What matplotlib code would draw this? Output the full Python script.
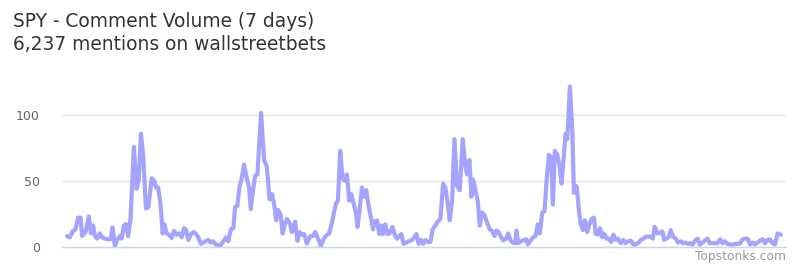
import matplotlib
matplotlib.use("Agg")
import matplotlib.pyplot as plt

title = "SPY - Comment Volume (7 days)"
subtitle = "6,237 mentions on wallstreetbets"
watermark = "Topstonks.com"
y_ticks = [0, 50, 100]

hours = [0, 0.64, 1.41, 1.98, 2.59, 3.16, 3.54, 4.34, 5.12, 5.59, 6.13, 6.53, 7.07, 7.71, 8.25, 8.89,
         9.66, 10.23, 10.70, 11.24, 11.79, 12.42, 12.82, 13.37, 13.84, 14.38, 14.95, 15.72, 16.36,
         16.83, 17.37, 17.92, 18.55, 19.14, 19.90, 20.56, 20.91, 21.45, 22.02, 22.49, 22.87, 23.43,
         23.97, 24.61, 25.15, 25.79, 26.40, 26.97, 27.51, 27.98, 28.52, 29.09, 29.70, 30.27, 30.88,
         31.52, 32.06, 32.62, 33.24, 33.80, 34.35, 34.98, 35.60, 36.23, 36.77, 37.41, 37.95, 38.52,
         39.13, 39.53, 40.07, 40.55, 41.11, 41.65, 42.29, 42.83, 43.23, 43.85, 44.25, 44.79, 45.66,
         46.37, 47.00, 47.66, 48.25, 48.84, 49.20, 49.67, 50.26, 50.73, 51.32, 51.79, 52.50, 52.90,
         53.68, 54.22, 54.69, 55.25, 55.80, 56.43, 57.21, 57.85, 58.39, 58.93, 59.73, 60.35, 60.98,
         61.69, 62.33, 62.87, 63.34, 63.74, 64.28, 64.83, 65.39, 65.86, 66.40, 66.88, 67.42, 67.98,
         68.36, 68.83, 69.40, 69.94, 70.41, 70.95, 71.52, 71.99, 72.37, 72.93, 73.48, 73.95, 74.35,
         74.89, 75.43, 75.90, 76.61, 77.08, 77.65, 78.19, 78.66, 79.21, 79.84, 80.38, 81.18, 81.73,
         82.20, 82.74, 83.31, 83.78, 84.32, 84.86, 85.50, 86.04, 86.68, 87.22, 87.86, 88.49, 89.03,
         89.58, 90.05, 90.61, 91.16, 91.79, 92.41, 93.11, 93.75, 94.15, 94.69, 95.16, 95.56, 96.10,
         96.65, 97.12, 97.69, 98.23, 98.87, 99.48, 100.04, 100.59, 101.06, 101.60, 102.00, 102.64,
         103.35, 103.82, 104.36, 104.90, 105.42, 105.77, 106.17, 106.88, 107.49, 108.06, 108.43,
         109.07, 109.71, 110.25, 110.79, 111.26, 111.83, 112.37, 112.84, 113.38, 113.95, 114.33,
         114.80, 115.37, 115.91, 116.38, 116.92, 117.32, 117.72, 118.34, 118.90, 119.28, 119.92,
         120.46, 120.86, 121.40, 121.87, 122.44, 122.98, 123.45, 124.00, 124.40, 124.94, 125.41,
         125.97, 126.35, 126.99, 127.46, 128.10, 128.57, 129.11, 129.65, 130.29, 130.92, 131.47,
         132.01, 132.65, 133.28, 133.83, 134.37, 135.00, 135.64, 136.18, 136.77, 137.36, 137.83,
         138.30, 138.94, 139.55, 140.12, 140.49, 141.06, 141.67, 142.07, 142.62, 143.25, 143.79,
         144.43, 144.97, 145.54, 146.15, 146.67, 147.19, 147.80, 148.37, 148.91, 149.55, 150.09,
         150.73, 151.27, 151.86, 152.45, 153.04, 153.70, 154.27, 154.81, 155.45, 156.06, 156.63,
         157.17, 157.76, 158.41, 158.98, 159.52, 160.15, 160.77, 161.34, 161.88, 162.51, 163.13,
         163.70, 164.24, 164.87, 165.42, 166.05, 166.59, 167.23, 168.00]

mentions = [8, 7, 12, 13, 22, 22, 8, 11, 23, 10, 16, 8, 6, 10, 7, 6,
            5.5, 5.5, 14.5, 0.5, 5, 8, 6, 16, 17, 8, 22, 76, 44,
            50, 86, 69, 29, 30, 52, 50, 45, 45, 31, 10, 17, 10,
            9, 6.5, 12, 9, 10, 7, 14, 13, 5, 9, 11, 10, 7,
            2, 3, 4, 5, 3, 4, 1.5, 1, 1.5, 4, 7, 4, 13,
            14, 30, 31, 45, 52, 62.5, 52, 45, 28.5, 45, 54, 55, 102,
            66, 61, 36, 40, 30, 20, 28, 24, 10, 18, 21, 17, 11,
            19, 4.4, 11, 9, 9.5, 2.3, 8, 8, 11, 7, 0.5, 5.5, 8.5,
            10, 18, 27, 33, 35, 73, 52, 50, 55, 35, 40, 33, 25,
            15, 28, 45, 38, 43, 31, 22, 13, 19, 20, 9.5, 16, 9.5,
            17, 9.5, 10, 15, 9, 6, 8, 9.5, 2, 3, 4, 5, 7,
            9.5, 2, 5, 2, 5, 3.5, 3.5, 13, 16, 19, 21, 48, 45,
            33, 20, 35, 82, 46, 43, 82, 61, 55, 66, 38, 51, 43,
            35, 16, 26, 24, 18, 13, 12, 8, 12, 11, 8, 4.5,
            6, 10, 4.5, 3, 2.5, 12, 2.5, 4, 5, 5.5, 1.5,
            4.5, 7, 8, 17, 10, 26, 27, 50, 70, 68, 32,
            73, 70, 61, 48, 70, 86, 82, 122, 89, 41, 46,
            28, 17.5, 12.5, 20, 11, 17.5, 21, 22, 10, 9, 14,
            7, 10, 6, 6, 3.5, 9, 5, 6, 2.5, 5, 2.5,
            4, 4.5, 1.5, 1.5, 2.5, 5, 6, 7.5, 7.5, 7.5, 6,
            15, 10, 10.5, 11.5, 5, 6, 7.5, 12.5, 7.5, 6, 3,
            4, 2.5, 3, 2, 2.5, 1.5, 4.5, 6, 1.5, 3, 4.5,
            6, 2.5, 2.5, 2.5, 2.5, 5.5, 2.5, 4, 2, 1.5, 1.5,
            2, 2, 2.5, 5.5, 6, 6, 1.5, 3, 1.5, 3, 4.5,
            5.5, 2.5, 5, 5.5, 2.5, 1.5, 10, 9]

W, H = 800, 267
fig = plt.figure(figsize=(W / 100, H / 100), dpi=100)
fig.patch.set_facecolor("white")

ax = fig.add_axes([62 / W, (H - 246.5) / H, (786 - 62) / W, (246.5 - 82.7) / H])
ax.plot(hours, mentions, color="#a4a4ff", linewidth=3.0, solid_joinstyle="round",
        solid_capstyle="round", zorder=3)
ax.set_xlim(-1.2, 169.2)
ax.set_ylim(0, 125)
ax.set_yticks(y_ticks)
ax.set_yticklabels([str(v) for v in y_ticks])
ax.set_xticks([])
ax.grid(axis="y", color="#e6e6e6", linewidth=1.0, zorder=0)
for s in ["top", "right", "left"]:
    ax.spines[s].set_visible(False)
ax.spines["bottom"].set_color("#ccd6eb")
ax.spines["bottom"].set_linewidth(1.0)
ax.tick_params(axis="y", length=0, pad=16, labelsize=9, labelcolor="#666666")
ax.set_facecolor("white")

fig.text(13 / W, 1 - 27 / H, title, fontsize=13.4, color="#333333", va="baseline", ha="left")
fig.text(13 / W, 1 - 50 / H, subtitle, fontsize=13.4, color="#333333", va="baseline", ha="left")
fig.text(786 / W, 1 - 260 / H, watermark, fontsize=8.8, color="#999999", va="baseline", ha="right")

fig.savefig("out.png", dpi=100, facecolor="white")
